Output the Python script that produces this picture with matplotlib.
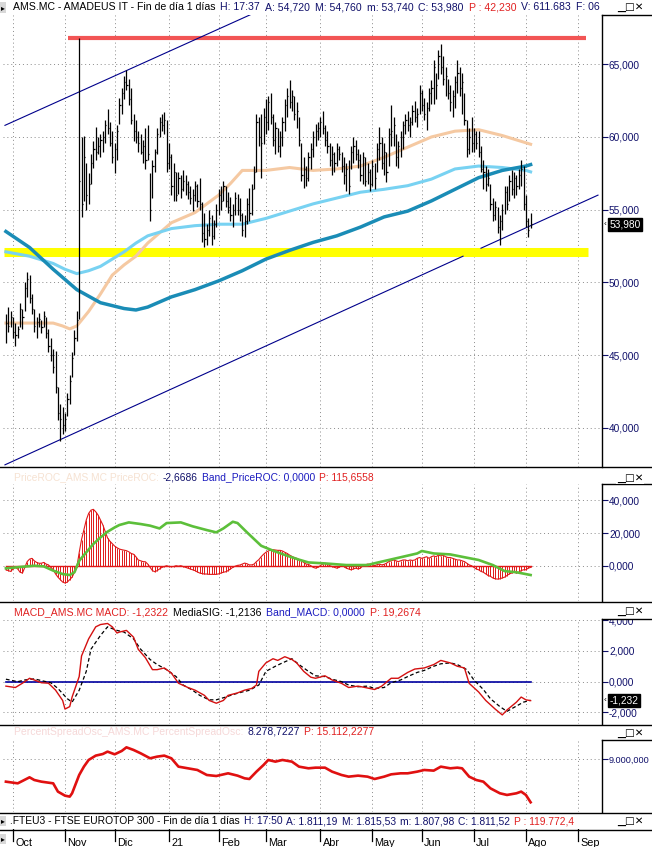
import numpy as np
import pandas as pd
import matplotlib
matplotlib.use('Agg')
import matplotlib.pyplot as plt
from matplotlib.lines import Line2D
from matplotlib.patches import Rectangle
from matplotlib.ticker import FuncFormatter
import matplotlib.transforms as mtransforms

plt.rcParams['font.family'] = ['Liberation Sans', 'DejaVu Sans']

# ---- daily bars AMS.MC (bar index 0 = 2020-09-28, business days) ----
high = [47.8, 48.3, 48.0, 47.6, 47.2, 47.0, 48.6, 48.2, 50.0, 50.7,
        50.5, 49.2, 48.2, 47.6, 47.9, 47.4, 48.0, 47.6, 46.8, 46.2,
        45.4, 45.3, 42.8, 41.6, 41.4, 41.0, 42.4, 43.6, 45.2, 46.7,
        48.0, 66.8, 60.0, 60.1, 58.2, 57.5, 58.8, 59.7, 60.7, 60.0,
        60.2, 60.4, 61.2, 61.9, 61.0, 60.4, 59.6, 60.8, 62.7, 63.4,
        64.2, 64.6, 64.0, 63.4, 61.6, 61.2, 60.4, 60.2, 59.8, 60.6,
        60.8, 57.5, 58.4, 59.2, 60.6, 61.4, 61.6, 61.7, 61.2, 59.6,
        58.8, 58.2, 57.6, 57.6, 57.4, 57.7, 57.4, 57.0, 56.6, 56.4,
        57.0, 56.8, 57.2, 55.5, 54.8, 54.0, 55.0, 54.6, 54.3, 55.4,
        56.4, 56.6, 57.0, 56.6, 56.2, 55.9, 55.4, 56.2, 56.1, 55.8,
        54.8, 54.6, 55.8, 56.5, 56.8, 58.0, 61.6, 61.4, 61.6, 62.0,
        62.6, 62.8, 63.0, 61.6, 61.0, 60.6, 60.4, 61.4, 62.6, 63.4,
        63.9, 63.2, 62.8, 62.4, 61.4, 59.6, 58.6, 58.0, 59.0, 59.6,
        60.4, 60.9, 61.0, 61.4, 61.8, 60.8, 60.4, 59.6, 59.4, 59.0,
        59.6, 59.4, 59.0, 58.6, 58.2, 58.4, 59.4, 60.0, 59.8, 59.2,
        58.8, 59.0, 58.6, 58.2, 57.8, 58.4, 58.2, 59.6, 60.7, 60.0,
        59.6, 59.0, 60.6, 62.2, 61.4, 60.2, 59.7, 60.4, 61.1, 61.6,
        61.8, 61.4, 62.2, 62.5, 62.0, 63.6, 63.2, 62.7, 62.4, 63.4,
        63.9, 65.3, 64.4, 66.0, 66.4, 65.6, 64.8, 64.0, 63.6, 63.2,
        64.2, 65.3, 64.8, 64.4, 63.0, 61.2, 60.6, 61.4, 60.6, 60.4,
        60.4, 59.4, 58.4, 58.0, 57.8, 56.8, 55.8, 55.6, 55.2, 54.6,
        55.4, 56.6, 56.6, 57.4, 57.7, 57.6, 57.4, 57.8, 58.4, 58.0,
        56.0, 54.4, 54.76]
low = [45.8, 46.6, 46.9, 46.2, 45.6, 46.2, 46.9, 46.8, 48.0, 49.0,
       48.6, 47.8, 46.6, 46.2, 46.9, 46.5, 46.9, 46.2, 45.2, 44.6,
       43.8, 42.4, 40.5, 39.1, 39.6, 39.8, 40.8, 41.6, 43.5, 45.0,
       46.0, 47.5, 54.5, 55.6, 55.0, 55.4, 56.8, 57.9, 58.4, 58.8,
       58.6, 59.0, 59.6, 60.2, 59.4, 58.2, 57.5, 58.4, 60.9, 61.6,
       62.6, 63.2, 62.2, 60.9, 59.7, 59.6, 59.0, 58.8, 58.2, 57.8,
       58.4, 54.2, 55.8, 57.6, 58.8, 60.0, 60.4, 60.2, 57.6, 57.8,
       56.0, 55.6, 55.6, 56.1, 55.8, 56.3, 56.0, 55.7, 55.4, 54.9,
       55.6, 55.2, 55.0, 52.8, 52.4, 52.6, 53.2, 52.6, 53.0, 53.8,
       54.6, 55.0, 55.6, 55.2, 54.8, 54.2, 53.8, 54.6, 54.6, 54.2,
       53.2, 53.1, 54.0, 54.2, 54.6, 56.4, 57.6, 59.4, 57.2, 59.5,
       60.2, 60.5, 60.9, 59.4, 58.8, 59.0, 58.6, 59.4, 60.4, 61.4,
       62.0, 61.8, 61.2, 60.6, 59.4, 57.0, 56.5, 56.6, 57.0, 57.8,
       58.6, 59.4, 59.8, 60.0, 60.2, 59.4, 58.9, 58.0, 57.4, 57.6,
       58.0, 58.4, 57.6, 56.8, 56.3, 56.1, 57.8, 58.2, 58.4, 57.9,
       57.0, 56.8, 56.6, 56.8, 56.3, 56.6, 56.4, 57.6, 58.4, 57.8,
       57.4, 56.9, 58.0, 59.4, 59.4, 58.0, 57.9, 58.6, 59.2, 60.2,
       60.4, 60.0, 60.8, 61.0, 60.7, 61.6, 61.8, 61.2, 60.5, 61.8,
       62.3, 62.3, 62.6, 64.0, 64.3, 63.6, 62.8, 62.6, 61.8, 61.4,
       62.0, 63.0, 62.8, 61.6, 60.8, 58.6, 58.8, 59.0, 59.0, 59.2,
       58.6, 57.6, 56.4, 56.3, 56.6, 55.0, 54.2, 54.3, 53.4, 52.6,
       53.6, 54.7, 55.0, 55.6, 56.0, 55.8, 56.0, 56.4, 56.6, 55.0,
       53.8, 53.1, 53.74]
close = [47.2, 47.0, 47.6, 46.6, 46.4, 46.8, 48.2, 47.6, 49.6, 50.2,
         48.9, 48.2, 47.0, 47.3, 47.5, 46.9, 47.7, 46.5, 45.6, 45.0,
         44.2, 42.8, 41.0, 40.6, 40.2, 40.6, 42.0, 43.2, 44.8, 46.2,
         47.4, 57.0, 55.4, 58.6, 56.0, 56.8, 58.2, 59.2, 59.0, 59.4,
         59.8, 60.0, 60.8, 60.6, 59.6, 58.6, 59.2, 60.4, 62.2, 63.0,
         63.8, 63.6, 62.6, 61.2, 60.4, 60.0, 59.6, 59.0, 59.4, 58.4,
         58.8, 55.0, 58.0, 59.0, 60.2, 61.0, 60.8, 61.2, 58.2, 58.6,
         56.6, 57.6, 56.0, 57.2, 56.4, 57.0, 56.8, 56.2, 55.8, 56.0,
         56.6, 55.6, 55.4, 53.4, 53.0, 53.6, 54.4, 53.2, 54.0, 55.0,
         56.0, 55.6, 56.6, 55.6, 55.2, 54.6, 55.0, 55.8, 55.0, 54.6,
         53.6, 54.2, 55.4, 54.8, 56.4, 57.6, 61.0, 60.0, 59.6, 61.4,
         61.0, 62.4, 61.4, 59.8, 60.6, 59.4, 60.0, 61.0, 62.2, 62.8,
         62.4, 62.8, 61.6, 61.8, 59.8, 57.4, 57.8, 57.2, 58.6, 59.2,
         60.0, 60.4, 60.6, 61.0, 60.6, 59.8, 59.4, 58.4, 58.8, 58.2,
         59.2, 58.8, 58.0, 57.4, 57.8, 56.6, 59.0, 59.4, 58.8, 58.4,
         57.4, 58.6, 57.0, 57.6, 56.8, 58.0, 57.2, 59.2, 59.6, 58.2,
         59.0, 57.6, 60.2, 60.4, 60.8, 58.6, 59.4, 60.0, 60.8, 61.2,
         60.8, 61.0, 61.8, 61.4, 61.6, 63.0, 62.2, 61.6, 62.0, 63.0,
         63.4, 64.8, 63.6, 65.6, 64.8, 64.0, 64.2, 63.0, 62.4, 62.8,
         63.8, 64.4, 63.4, 63.8, 61.2, 59.2, 60.0, 59.6, 60.2, 59.6,
         59.0, 57.8, 57.6, 56.8, 57.2, 55.4, 54.6, 55.2, 53.8, 54.2,
         55.0, 56.2, 55.4, 57.0, 56.4, 57.2, 56.6, 57.4, 57.8, 55.4,
         54.2, 53.6, 53.98]

# moving averages (read at these bar indices)
ma_tan_idx = [0, 10, 20, 24, 27, 30, 35, 40, 45, 50, 55, 60, 70, 80, 90, 95, 100,
              105, 110, 120, 130, 140, 150, 160, 170, 180, 190, 200, 210, 220, 222]
ma_tan = [47.2, 47.2, 47.2, 47.0, 46.8, 47.0, 48.0, 49.2, 50.5, 51.2, 51.8, 52.7,
          54.1, 54.8, 56.0, 56.8, 57.7, 57.7, 57.7, 57.9, 57.7, 57.8, 58.0, 58.6,
          59.3, 60.0, 60.4, 60.5, 60.1, 59.6, 59.5]
ma_sky_idx = [0, 10, 20, 25, 30, 35, 40, 50, 55, 60, 70, 80, 90, 100, 110, 120,
              130, 140, 150, 160, 170, 180, 190, 200, 210, 220, 222]
ma_sky = [52.1, 51.8, 51.3, 50.9, 50.6, 50.8, 51.1, 52.1, 52.7, 53.2, 53.7, 53.9,
          54.0, 54.0, 54.4, 54.9, 55.4, 55.8, 56.2, 56.4, 56.65, 57.1, 57.8, 58.0,
          57.9, 57.7, 57.6]
ma_teal_idx = [0, 10, 20, 30, 40, 50, 55, 60, 70, 80, 90, 100, 110, 120, 130, 140,
               150, 160, 170, 180, 190, 200, 210, 220, 222]
ma_teal = [53.5, 52.4, 50.9, 49.5, 48.6, 48.2, 48.1, 48.3, 49.0, 49.5, 50.1, 50.8,
           51.6, 52.2, 52.75, 53.2, 53.8, 54.5, 54.9, 55.6, 56.4, 57.2, 57.7, 58.0, 58.1]

# drawn lines (bar index, price)
resist_idx, resist_val = [26.3, 245.4], [66.8, 66.8]
support_idx, support_val = [-0.8, 246.2], [52.07, 52.07]
chan_up_idx, chan_up_val = [-0.4, 103.3], [60.8, 68.4]
chan_lo_idx, chan_lo_val = [-0.4, 193.4], [37.45, 51.8]
chan_lo2_idx, chan_lo2_val = [201.0, 250.5], [52.35, 56.0]

# PriceROC histogram (one per bar) and its signal line
roc_hist = [-2.5, -3, -3.5, -2, -1, -2, -4, -4.5, -1, 2.5,
            4, 4.5, 3, 2, 1.5, 1.5, 2, 1, 0.5, -1,
            -2.5, -5, -7, -8.5, -10, -10.6, -10, -8.5, -7, -4,
            -1, 8, 16, 22, 28, 32, 34, 34.5, 33, 31,
            28, 25, 21, 17, 15, 13.5, 12, 11, 10.2, 9.8,
            9.5, 9.2, 8.5, 7.5, 7, 5.5, 3.5, 3, 2.5, 2.4,
            1, -1, -3, -3.7, -3, -2, -1, -0.5, 0, -0.5,
            -0.6, -0.5, 0, -0.3, 0, -0.5, -1, -1.5, -2, -2.5,
            -3, -3.8, -4.5, -4.8, -5.1, -5.1, -5.3, -5.3, -5.3, -5.3,
            -5, -4.5, -4, -3.7, -3, -2, -1, -0.3, 0.2, 0.4,
            1, 1.6, 1.2, 0.5, 0.5, 1, 2.5, 3.7, 5.5, 7,
            8.2, 9, 9.6, 9.8, 9.6, 9.4, 9.4, 9, 8.2, 7.5,
            6.5, 5.7, 5, 4.5, 3.7, 3, 2, 1, 0.8, 0,
            -1, -1.5, -1, 0, 1, 1.5, 1, 0, -0.5, -1,
            -1.5, -1, 0, -0.5, -1.5, -2, -2.5, -2, -1.5, -2,
            -1.5, 0, 0.5, 1, 0.8, 0.5, 0, 0.6, 1, 0.5,
            0.8, 1.5, 2.5, 3, 3.5, 3, 2.5, 3, 3.5, 3.5,
            3, 3.5, 3.2, 3.5, 4.5, 5, 4.5, 5, 5.5, 4.5,
            5.5, 6, 5.5, 6.5, 6, 6.5, 5.5, 5, 5, 4.5,
            4, 3.5, 3.5, 3, 2.5, 1.5, 0.5, 0, -1, -2,
            -2.5, -3.5, -4, -5, -6, -6.5, -7.5, -8, -8.2, -8,
            -7.5, -7, -6, -5, -4.5, -4, -4.5, -4, -3, -2.5,
            -2.5, -1.5, -1]
roc_sig_idx = [0, 6, 12, 16, 20, 24, 27, 29, 31, 34, 37, 40, 43, 46, 48, 52, 57,
               61, 65, 68, 74, 79, 85, 89, 92, 96, 98, 102, 108, 113, 119, 124,
               128, 135, 144, 153, 156, 165, 174, 176, 181, 188, 195, 200, 206,
               211, 216, 222]
roc_sig = [-1.6, -0.8, 0, -0.4, -3, -5.1, -5.7, -4, 3, 8.2, 13.3, 17.3, 20.8, 23.4,
           24.9, 26.5, 25.5, 24.5, 22.8, 26.1, 26.5, 24.1, 21.8, 20.4, 22.8, 26.9,
           26.1, 20.4, 12.2, 9.2, 6.1, 3.7, 2, 1.4, 0.4, 0.4, 1.5, 4.5, 7.5, 9, 7.5,
           6.9, 4.9, 3.5, 0.4, -3.3, -4, -5.7]

# MACD and signal
macd_idx = [0, 4, 7, 10, 12, 15, 18, 21, 24, 25, 27, 28, 31, 32, 35, 38, 40, 43,
            45, 47, 48, 51, 54, 56, 59, 62, 64, 67, 70, 73, 77, 80, 84, 86, 89, 92,
            94, 98, 101, 104, 106, 107, 110, 113, 115, 118, 121, 123, 126, 129, 131,
            135, 138, 142, 145, 149, 152, 156, 159, 163, 166, 170, 173, 177, 181,
            184, 188, 191, 194, 196, 200, 203, 207, 210, 212, 216, 218, 220, 222]
macd = [-0.29, -0.38, -0.10, 0.22, 0.11, -0.07, -0.10, -0.55, -1.22, -1.78, -1.62,
        -1.00, 0.33, 1.67, 2.78, 3.56, 3.71, 3.78, 3.56, 3.16, 3.22, 3.33, 2.89,
        2.10, 1.56, 0.78, 0.78, 0.89, 0.56, -0.10, -0.38, -0.55, -0.89, -1.22,
        -1.40, -1.22, -0.89, -0.73, -0.55, -0.44, -0.22, 0.67, 1.22, 1.49, 1.38,
        1.62, 1.44, 1.22, 0.67, 0.29, 0.22, 0.38, 0.11, -0.11, -0.38, -0.29, -0.38,
        -0.51, -0.29, 0.22, 0.22, 0.60, 0.82, 0.89, 1.11, 1.38, 1.22, 1.00, 0.89,
        -0.11, -0.67, -1.22, -1.78, -2.16, -1.84, -1.33, -1.00, -1.18, -1.232]
sig_idx = [0, 5, 8, 12, 15, 19, 22, 26, 28, 31, 34, 36, 40, 43, 47, 50, 54, 57, 61,
           64, 68, 72, 75, 79, 82, 86, 89, 93, 96, 100, 103, 107, 110, 114, 117, 121,
           124, 128, 131, 135, 138, 142, 145, 149, 153, 156, 160, 163, 167, 170, 174,
           177, 181, 184, 188, 191, 195, 198, 202, 205, 209, 212, 215, 219, 222]
sig = [0.16, 0.00, 0.11, 0.18, 0.07, -0.07, -0.44, -1.11, -1.33, -0.56, 0.67, 2.11,
       3.00, 3.56, 3.33, 3.22, 2.78, 2.11, 1.44, 1.11, 0.78, 0.33, -0.22, -0.56,
       -0.89, -1.18, -1.18, -1.00, -0.84, -0.67, -0.56, -0.22, 0.67, 1.00, 1.22,
       1.49, 1.11, 0.67, 0.38, 0.33, 0.16, 0.00, -0.22, -0.33, -0.29, -0.44, -0.38,
       -0.07, 0.11, 0.33, 0.60, 0.73, 1.00, 1.16, 1.22, 1.11, 0.78, 0.11, -0.51,
       -1.11, -1.62, -1.93, -1.67, -1.33, -1.21]

# PercentSpreadOsc
pso_idx = [0, 5, 7, 10, 12, 15, 20, 22, 25, 27, 28, 31, 33, 35, 38, 41, 43, 46, 49,
           51, 54, 57, 61, 64, 67, 70, 73, 77, 81, 85, 89, 94, 98, 101, 103, 106, 109,
           111, 114, 117, 121, 124, 128, 131, 135, 138, 142, 145, 149, 153, 156, 160,
           163, 167, 170, 174, 177, 181, 184, 188, 191, 193, 196, 199, 202, 205, 209,
           212, 216, 218, 220, 222]
pso = [8625, 8597, 8637, 8698, 8653, 8625, 8597, 8458, 8390, 8374, 8430, 8737, 8877,
       8989, 9062, 9089, 9129, 9084, 9140, 9201, 9157, 9101, 9017, 9045, 9062, 9017,
       8877, 8849, 8821, 8737, 8720, 8765, 8726, 8681, 8670, 8793, 8905, 8989, 8961,
       8989, 8961, 8877, 8849, 8860, 8860, 8793, 8737, 8709, 8726, 8709, 8670, 8709,
       8748, 8765, 8765, 8793, 8821, 8810, 8877, 8849, 8860, 8849, 8709, 8653, 8625,
       8513, 8430, 8402, 8430, 8458, 8402, 8279]

month_labels = ['Oct', 'Nov', 'Dic', '21', 'Feb', 'Mar', 'Abr', 'May', 'Jun', 'Jul', 'Ago', 'Sep']

# ---------------------------------------------------------------
dates = pd.bdate_range('2020-09-28', '2021-09-30')
pos = pd.Series(np.arange(len(dates)), index=dates)
month_pos = pos.groupby([dates.year, dates.month]).first().values[1:]

W, H = 652, 847
fig = plt.figure(figsize=(W / 100, H / 100), dpi=100)
NAVY = '#10106a'
RED = '#e02020'
GRID = dict(color='#8a8a8a', lw=0.7, linestyle=(0, (1, 3)))


def panel(x0, y0, x1, y1):
    return fig.add_axes([x0 / W, 1 - y1 / H, (x1 - x0) / W, (y1 - y0) / H])


def fig_line(xs, ys, **kw):
    fig.add_artist(Line2D([x / W for x in xs], [1 - y / H for y in ys],
                          color=kw.get('color', 'black'), lw=kw.get('lw', 1.0),
                          zorder=kw.get('zorder', 5)))


def es(v, nd=3):
    s = f'{v:,.{nd}f}'
    return s.replace(',', '#').replace('.', ',').replace('#', '.')


def style(ax, ylim, yticks, nd=3, lsize=7.3):
    ax.set_xlim(-1.23, 252.2)
    ax.set_ylim(*ylim)
    ax.set_xticks(month_pos)
    ax.set_yticks(yticks)
    ax.yaxis.set_major_formatter(FuncFormatter(lambda v, p: es(v, nd)))
    ax.yaxis.tick_right()
    ax.tick_params(axis='x', length=0, labelbottom=False)
    ax.tick_params(axis='y', direction='out', length=4, width=0.8, color=NAVY,
                   labelcolor=NAVY, labelsize=lsize, pad=1)
    for s in ['top', 'bottom', 'left']:
        ax.spines[s].set_visible(False)
    ax.spines['right'].set_linewidth(1.0)
    ax.grid(True, **GRID)
    ax.set_axisbelow(True)
    ax.patch.set_alpha(0)


xs = np.arange(len(high))

# ---- panel 1: price ----
ax1 = panel(3, 15, 602, 467)
style(ax1, (37.30, 68.39), [40, 45, 50, 55, 60, 65])
ax1.plot(support_idx, support_val, color='#ffff00', lw=6.5, solid_capstyle='butt', zorder=2)
ax1.plot(resist_idx, resist_val, color='#f25555', lw=3.0, solid_capstyle='butt', zorder=2)
ax1.plot(ma_tan_idx, ma_tan, color='#f5c9a2', lw=2.2, zorder=3)
ax1.plot(ma_sky_idx, ma_sky, color='#78d2f2', lw=2.2, zorder=3)
ax1.plot(ma_teal_idx, ma_teal, color='#1a8cb6', lw=2.5, zorder=3)
for ci, cv in [(chan_up_idx, chan_up_val), (chan_lo_idx, chan_lo_val), (chan_lo2_idx, chan_lo2_val)]:
    ax1.plot(ci, cv, color='#00008b', lw=0.8, zorder=4)
ax1.vlines(xs, low, high, color='black', lw=0.9, zorder=5)
ax1.hlines(close, xs, xs + 0.5, color='black', lw=0.9, zorder=5)
bt = mtransforms.blended_transform_factory(ax1.transAxes, ax1.transData)
ax1.text(1.012, close[-1], es(close[-1]), transform=bt, color='white', fontsize=7.3,
         va='center', ha='left', bbox=dict(facecolor='black', edgecolor='black', pad=1.2))
ax1.text(1.002, close[-1], '‹', transform=bt, color='black', fontsize=6, va='center', ha='left')

# ---- panel 2: PriceROC ----
ax2 = panel(3, 484, 602, 601)
style(ax2, (-21.6, 50.0), [0, 20, 40])
hx = np.arange(len(roc_hist))
ax2.vlines(hx, 0, roc_hist, color='#e01818', lw=0.7, zorder=2)
ax2.plot(hx, roc_hist, color='#e01818', lw=0.8, zorder=2)
ax2.plot([0, hx[-1]], [0, 0], color='#e01818', lw=1.0, zorder=2)
ax2.plot(roc_sig_idx, roc_sig, color='#5cbf3a', lw=1.9, zorder=3)

# ---- panel 3: MACD ----
ax3 = panel(3, 619, 602, 724)
style(ax3, (-2.75, 4.07), [-2, 0, 2, 4])
ax3.plot([0, xs[-1]], [0, 0], color='#0000a0', lw=1.2, zorder=2)
ax3.plot(sig_idx, sig, color='black', lw=0.9, dashes=(3, 2), zorder=3)
ax3.plot(macd_idx, macd, color='#d41010', lw=1.0, zorder=4)
bt3 = mtransforms.blended_transform_factory(ax3.transAxes, ax3.transData)
ax3.text(1.012, macd[-1], es(macd[-1]), transform=bt3, color='white', fontsize=7.3,
         va='center', ha='left', bbox=dict(facecolor='black', edgecolor='black', pad=1.2))
ax3.text(1.002, macd[-1], '‹', transform=bt3, color='black', fontsize=6, va='center', ha='left')

# ---- panel 4: PercentSpreadOsc ----
ax4 = panel(3, 740, 602, 812)
style(ax4, (8116, 9324), [9000], lsize=6.6)
ax4.plot(pso_idx, pso, color='#e01010', lw=1.9, zorder=3)

# ---- date strip ----
axd = panel(3, 829, 602, 847)
axd.set_xlim(-1.23, 252.2)
axd.set_ylim(0, 1)
axd.axis('off')
for p, lab in zip(month_pos, month_labels):
    axd.plot([p, p], [1, 0.35], color='black', lw=0.9)
    axd.text(p + 1.0, 0.22, lab, fontsize=7.8, va='center', ha='left')

# ---- frames ----
for y in [467.5, 601.5, 724.5, 812.5, 829.5]:
    fig_line([0, W], [y, y])
for y in [15, 484, 619, 740]:
    fig_line([602, W], [y, y])
# white cover above MACD box (clips top of its first label)
fig.add_artist(Rectangle((603 / W, 1 - 619.5 / H), 49 / W, 12 / H, transform=fig.transFigure,
                         facecolor='white', edgecolor='none', zorder=4))

renderer = fig.canvas.get_renderer()


def flow(x, y, parts, size=7.4, gap=4):
    for s, c in parts:
        t = fig.text(x / W, 1 - y / H, s, color=c, fontsize=size, va='center', ha='left')
        x += t.get_window_extent(renderer=renderer).width + gap


def buttons(y):
    fig.text(617 / W, 1 - y / H, '▁□✕', fontsize=7.5, family='DejaVu Sans', color='black',
             va='center', ha='left', zorder=6,
             bbox=dict(facecolor='white', edgecolor='none', pad=0.5))


def marker(y):
    fig.text(1 / W, 1 - y / H, '▸', fontsize=5.5, family='DejaVu Sans', va='center', ha='left',
             bbox=dict(facecolor='#d8d8d8', edgecolor='none', pad=0.6))


flow(13, 7.5, [('AMS.MC - AMADEUS IT - Fin de día 1 días', 'black'), ('H: 17:37', NAVY),
               ('A: 54,720', NAVY), ('M: 54,760', NAVY), ('m: 53,740', NAVY),
               ('C: 53,980', NAVY), ('P : 42,230', RED), ('V: 611.683', NAVY), ('F: 06', NAVY)],
     size=7.6, gap=5)
flow(14, 477, [('PriceROC_AMS.MC PriceROC:', '#f6e2d2'), ('-2,6686', NAVY),
               ('Band_PriceROC: 0,0000', '#1c1cc0'), ('P: 115,6558', RED)])
flow(14, 612, [('MACD_AMS.MC MACD: -1,2322', RED), ('MediaSIG: -1,2136', 'black'),
               ('Band_MACD: 0,0000', '#1c1cc0'), ('P: 19,2674', RED)], size=7.6, gap=5)
flow(14, 732, [('PercentSpreadOsc_AMS.MC PercentSpreadOsc:', '#f6d8d8'), ('8.278,7227', NAVY),
               ('P: 15.112,2277', RED)], size=7.5)
flow(10, 821, [('.FTEU3 - FTSE EUROTOP 300 - Fin de día 1 días', 'black'), ('H: 17:50', NAVY),
               ('A: 1.811,19', NAVY), ('M: 1.815,53', NAVY), ('m: 1.807,98', NAVY),
               ('C: 1.811,52', NAVY), ('P : 119.772,4', RED)], size=7.4, gap=4)
for y in [7.5, 478, 611, 733, 821]:
    buttons(y)
for y in [7.5, 821, 839]:
    marker(y)

fig.savefig('out.png', dpi=100)
